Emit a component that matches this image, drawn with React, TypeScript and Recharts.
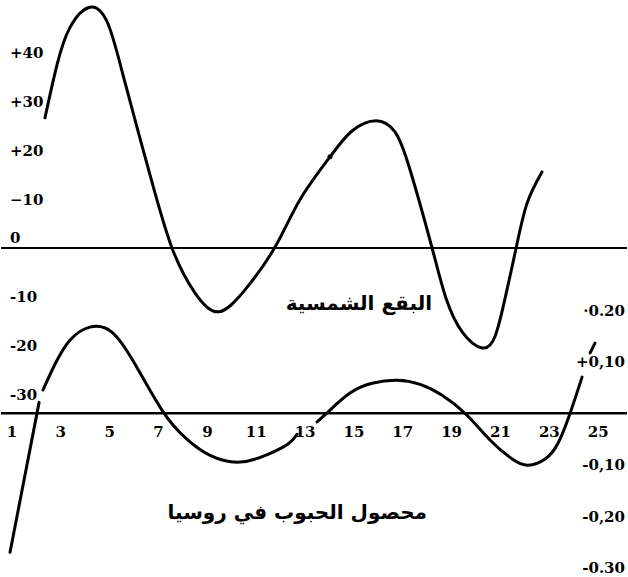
import React from "react";
import {
  ComposedChart,
  Line,
  Scatter,
  XAxis,
  YAxis,
  ReferenceLine,
  ReferenceDot,
} from "recharts";

// sunspot curve (left scale)
const sunspots = [
  { x: 2.35, v: 26.7 },
  { x: 2.84, v: 37.5 },
  { x: 3.38, v: 45.3 },
  { x: 4.19, v: 49.4 },
  { x: 4.93, v: 46.0 },
  { x: 5.63, v: 33.9 },
  { x: 6.65, v: 15.0 },
  { x: 7.55, v: 0 },
  { x: 8.49, v: -9.2 },
  { x: 9.44, v: -13.1 },
  { x: 10.54, v: -8.6 },
  { x: 11.77, v: 0.2 },
  { x: 12.79, v: 9.9 },
  { x: 14.02, v: 18.7 },
  { x: 14.92, v: 24.0 },
  { x: 15.91, v: 26.1 },
  { x: 16.68, v: 23.8 },
  { x: 17.3, v: 16.0 },
  { x: 18.2, v: 0 },
  { x: 18.77, v: -10.3 },
  { x: 19.43, v: -17.2 },
  { x: 20.25, v: -20.5 },
  { x: 20.78, v: -18.1 },
  { x: 21.19, v: -10.3 },
  { x: 21.64, v: 0 },
  { x: 22.09, v: 9.2 },
  { x: 22.7, v: 15.6 },
];
const sunspotMarks = [{ x: 14.02, v: 18.7 }];

// grain harvest curve (right scale)
const grainLeadIn = [
  { x: 0.92, v: -0.27 },
  { x: 2.11, v: 0.021 },
];
const grainFirst = [
  { x: 2.27, v: 0.045 },
  { x: 2.76, v: 0.095 },
  { x: 3.38, v: 0.142 },
  { x: 4.19, v: 0.167 },
  { x: 5.1, v: 0.157 },
  { x: 6.04, v: 0.095 },
  { x: 7.14, v: 0.006 },
  { x: 8.08, v: -0.047 },
  { x: 9.11, v: -0.082 },
  { x: 10.34, v: -0.095 },
  { x: 11.48, v: -0.08 },
  { x: 12.3, v: -0.06 },
  { x: 12.67, v: -0.041 },
];
const grainSecond = [
  { x: 13.49, v: -0.017 },
  { x: 14.02, v: 0.006 },
  { x: 14.84, v: 0.039 },
  { x: 15.74, v: 0.058 },
  { x: 16.77, v: 0.064 },
  { x: 17.71, v: 0.056 },
  { x: 18.61, v: 0.035 },
  { x: 19.59, v: -0.002 },
  { x: 20.57, v: -0.052 },
  { x: 21.48, v: -0.089 },
  { x: 22.13, v: -0.101 },
  { x: 22.83, v: -0.089 },
  { x: 23.36, v: -0.058 },
  { x: 23.85, v: 0 },
  { x: 24.34, v: 0.07 },
];
const grainTail = [
  { x: 24.67, v: 0.117 },
  { x: 24.87, v: 0.136 },
];

const yearTicks = [1, 3, 5, 7, 9, 11, 13, 15, 17, 19, 21, 23, 25];
const sunTicks = [40, 30, 20, 10, 0, -10, -20, -30];
const sunTickLabels = ["+40", "+30", "+20", "\u221210", "0", "-10", "-20", "-30"];
const grainTicks = [0.2, 0.1, -0.1, -0.2, -0.3];
const grainTickLabels = ["\u00b70.20", "+0,10", "-0,10", "-0,20", "-0.30"];

const NUM_FONT = "'DejaVu Serif', serif";
const AR_FONT = "'DejaVu Sans', sans-serif";

function labelFor(ticks: number[], labels: string[], value: number) {
  const i = ticks.findIndex((t) => Math.abs(t - value) < 1e-9);
  return i >= 0 ? labels[i] : String(value);
}

const SunTick = ({ y, payload }: any) => {
  // the zero label sits above the line
  const lift = payload.value === 0 ? -10 : 0;
  return (
    <text
      x={10}
      y={y + lift}
      dy="0.36em"
      textAnchor="start"
      fill="#000"
      fontFamily={NUM_FONT}
      fontWeight="bold"
      fontSize={15}
    >
      {labelFor(sunTicks, sunTickLabels, payload.value)}
    </text>
  );
};

const GrainTick = ({ y, payload }: any) => (
  <text
    x={625}
    y={y}
    dy="0.36em"
    textAnchor="end"
    fill="#000"
    fontFamily={NUM_FONT}
    fontWeight="bold"
    fontSize={15}
  >
    {labelFor(grainTicks, grainTickLabels, payload.value)}
  </text>
);

const lineProps = {
  type: "natural" as const,
  dataKey: "v",
  stroke: "#000",
  strokeWidth: 3,
  dot: false,
  activeDot: false,
  strokeLinecap: "round" as const,
  isAnimationActive: false,
};

const arabicLabel = {
  position: "absolute" as const,
  direction: "rtl" as const,
  fontFamily: AR_FONT,
  fontWeight: "bold",
  fontSize: 20,
  lineHeight: "24px",
  whiteSpace: "nowrap" as const,
};

export default function App() {
  return (
    <div
      style={{
        position: "absolute",
        left: 0,
        top: 0,
        width: 628,
        height: 577,
        background: "#fff",
      }}
    >
      <ComposedChart width={628} height={577} margin={{ top: 0, right: 0, bottom: 0, left: 0 }}>
        <XAxis
          dataKey="x"
          type="number"
          domain={[0.55, 26.18]}
          allowDataOverflow
          hide
        />
        <YAxis
          yAxisId="sun"
          type="number"
          domain={[-67.49, 50.87]}
          allowDataOverflow
          width={1}
          ticks={sunTicks}
          interval={0}
          axisLine={false}
          tickLine={false}
          tick={<SunTick />}
        />
        <YAxis
          yAxisId="grain"
          orientation="right"
          type="number"
          domain={[-0.318, 0.802]}
          allowDataOverflow
          width={1}
          ticks={grainTicks}
          interval={0}
          axisLine={false}
          tickLine={false}
          tick={<GrainTick />}
        />

        <ReferenceLine yAxisId="sun" y={0} stroke="#000" strokeWidth={2} />
        <ReferenceLine yAxisId="grain" y={0} stroke="#000" strokeWidth={2.5} />

        {yearTicks.map((t) => (
          <ReferenceDot
            key={t}
            x={t}
            y={0}
            yAxisId="grain"
            r={0}
            fill="none"
            stroke="none"
            label={{
              value: String(t),
              position: "bottom",
              offset: 13,
              fill: "#000",
              fontSize: 15,
              fontWeight: "bold",
              fontFamily: NUM_FONT,
            }}
          />
        ))}

        <Line {...lineProps} yAxisId="sun" data={sunspots} />
        <Scatter
          yAxisId="sun"
          data={sunspotMarks}
          dataKey="v"
          isAnimationActive={false}
          shape={(p: any) => <circle cx={p.cx} cy={p.cy} r={2.5} fill="#000" />}
        />
        <Line {...lineProps} yAxisId="grain" data={grainLeadIn} />
        <Line {...lineProps} yAxisId="grain" data={grainFirst} />
        <Line {...lineProps} yAxisId="grain" data={grainSecond} />
        <Line {...lineProps} yAxisId="grain" data={grainTail} />
      </ComposedChart>

      <div style={{ ...arabicLabel, right: 628 - 432, top: 291 }}>البقع الشمسية</div>
      <div style={{ ...arabicLabel, right: 628 - 427, top: 500 }}>
        محصول الحبوب في روسيا
      </div>
    </div>
  );
}
